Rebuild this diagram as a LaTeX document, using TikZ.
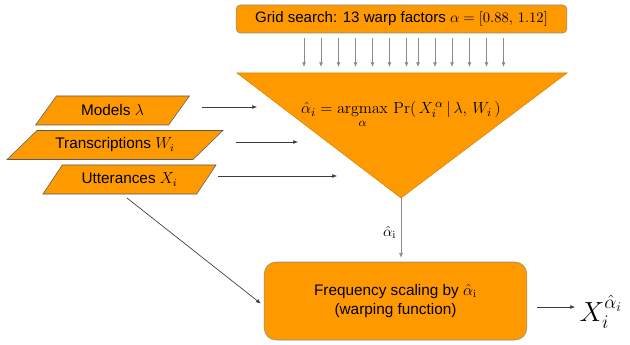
\documentclass[tikz,border=0pt]{standalone}
\usepackage{amsmath}
\usepackage[no-math]{fontspec}
\setmainfont{Liberation Sans}
\usetikzlibrary{positioning, arrows.meta, shapes.geometric, calc}
\definecolor{boxfill}{HTML}{FF9900}
\definecolor{boxline}{HTML}{8C8C8C}
\definecolor{triline}{HTML}{D98200}
\definecolor{paraline}{HTML}{5A5A5A}
\definecolor{wire}{HTML}{3C3C3C}
\definecolor{gwire}{HTML}{8A8A8A}
\tikzset{
  gridbox/.style = {rectangle, rounded corners=3pt, draw=boxline, fill=boxfill,
                    minimum width=248pt, minimum height=21pt,
                    font=\fontsize{11.3}{13.6}\selectfont},
  para/.style    = {trapezium, trapezium stretches=true,
                    trapezium left angle=44, trapezium right angle=136,
                    draw=paraline, fill=boxfill, inner xsep=0pt, inner ysep=0pt,
                    minimum height=21.75pt, font=\fontsize{11.5}{13.6}\selectfont},
  freqbox/.style = {rectangle, rounded corners=9pt, draw=boxline, fill=boxfill,
                    minimum width=197pt, minimum height=58.5pt, align=center,
                    font=\fontsize{11.5}{14.2}\selectfont},
  arr/.style     = {-{Latex[length=3.5pt,width=3pt]}, line width=0.5pt, draw=wire},
  garr/.style    = {-{Latex[length=3.5pt,width=3pt]}, line width=0.6pt, draw=gwire},
}

\begin{document}
\begin{tikzpicture}[x=0.75pt, y=-0.75pt]
  \useasboundingbox (0,0) rectangle (630,345);

  % Grid search on top, arrows into the estimator
  \node[gridbox] (grid) at (401.5,19)
       {Grid search: 13 warp factors $\alpha = [0.88,\, 1.12]$};
  \coordinate (ttop) at (401,73);
  \foreach \gx in {304,321,338.5,355.5,372.5,389.5,406.5,418,435,452,469.5,486.5,503.5}
    \draw[garr, shorten <=3.75pt, shorten >=4.5pt] (grid.south -| \gx,0) -- (ttop -| \gx,0);

  % Estimator (triangle)
  \draw[draw=triline, fill=boxfill] (237,73) -- (567,73) -- (401,198) -- cycle;
  \coordinate (apex) at (401,198);
  \node[anchor=base, font=\fontsize{12.5}{14}\selectfont] (est) at (401,114)
       {$\displaystyle \hat{\alpha}_i = \operatorname*{argmax}_{\alpha}\, \Pr(\, X_i^{\,\alpha} \,|\, \lambda,\, W_i\,)$};

  % Inputs
  \node[para, minimum width=116pt] (models) at (112.5,110.5) {Models $\lambda$};
  \node[para, minimum width=162pt, trapezium left angle=32, trapezium right angle=148]
       (trans) at (115,145) {Transcriptions $W_i$};
  \node[para, minimum width=131pt] (utt) at (129.5,179.5) {Utterances $X_i$};

  \coordinate (mA) at (202,107);  \coordinate (mB) at (257,107);
  \coordinate (tA) at (236,142);  \coordinate (tB) at (298,142);
  \coordinate (uA) at (218,176);  \coordinate (uB) at (337,176);
  \draw[arr] (mA) -- (mB);
  \draw[arr] (tA) -- (tB);
  \draw[arr] (uA) -- (uB);

  % Warping
  \node[freqbox] (freq) at (395.5,301)
       {Frequency scaling by $\hat{\alpha}_{\mathrm{i}}$\\(warping function)};
  \coordinate (uC) at (127,198);
  \draw[arr, shorten >=3pt] (uC) -- (freq.west |- 0,306);
  \draw[arr, draw=gwire] (apex) -- node[left, pos=0.58, font=\fontsize{11}{13}\selectfont]
       {$\hat{\alpha}_{\mathrm{i}}$} ([yshift=3pt]apex |- freq.north);

  % Output
  \node[font=\fontsize{20}{22}\selectfont] (outx) at (601,312) {$X_i^{\hat{\alpha}_i}$};
  \coordinate (oA) at (537,307);
  \draw[arr] (oA) -- (outx.west |- oA);

\end{tikzpicture}
\end{document}
